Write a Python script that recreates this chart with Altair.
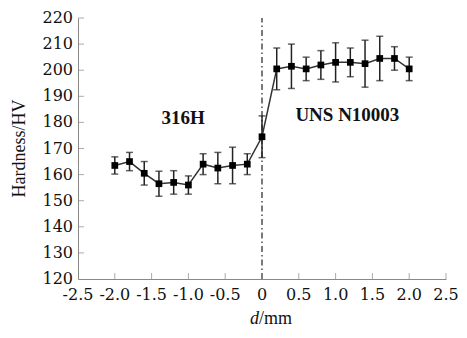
import altair as alt
import pandas as pd

d_mm = [-2.0, -1.8, -1.6, -1.4, -1.2, -1.0, -0.8, -0.6, -0.4, -0.2, 0.0,
        0.2, 0.4, 0.6, 0.8, 1.0, 1.2, 1.4, 1.6, 1.8, 2.0]
hardness = [163.5, 165, 160.5, 156.5, 157, 156, 164, 162.5, 163.5, 164, 174.5,
            200.5, 201.5, 200.5, 202, 203, 203, 202.5, 204.5, 204.5, 200.5]
err = [3.3, 3.5, 4.5, 4.8, 4.5, 3.5, 4, 6, 7, 4, 8,
       8, 8.5, 4.5, 5.5, 7.5, 5.5, 9, 8.5, 4.5, 4.5]
y_ticks = [120, 130, 140, 150, 160, 170, 180, 190, 200, 210, 220]
x_ticks = [-2.5, -2.0, -1.5, -1.0, -0.5, 0.0, 0.5, 1.0, 1.5, 2.0, 2.5]
x_tick_labels = ["-2.5", "-2.0", "-1.5", "-1.0", "-0.5", "0", "0.5", "1.0", "1.5", "2.0", "2.5"]
region_labels = ["316H", "UNS N10003"]
region_x = [-1.07, 1.16]
region_y = [181.5, 183]

df = pd.DataFrame({"d": d_mm, "hv": hardness, "lo": [h - e for h, e in zip(hardness, err)],
                   "hi": [h + e for h, e in zip(hardness, err)]})

FONT = "DejaVu Serif"
TFONT = "Liberation Serif"
W, H = 368, 261
xs = alt.Scale(domain=[-2.5, 2.5], nice=False, zero=False)
ys = alt.Scale(domain=[120, 220], nice=False, zero=False)

ax_x = alt.Axis(values=x_ticks, labels=False, ticks=False, title=None, grid=False, domainColor="#888")
ax_y = alt.Axis(values=y_ticks, labels=False, ticks=False, title=None, grid=False, domainColor="#888")


def qx(field, axis=None):
    if axis is None:
        return alt.X(field, type="quantitative", scale=xs)
    return alt.X(field, type="quantitative", scale=xs, axis=axis)


def qy(field, axis=None):
    if axis is None:
        return alt.Y(field, type="quantitative", scale=ys)
    return alt.Y(field, type="quantitative", scale=ys, axis=axis)


base = alt.Chart(df)
line = base.mark_line(color="#333", strokeWidth=1.5).encode(x=qx("d", ax_x), y=qy("hv", ax_y))
bars = base.mark_rule(color="#222", strokeWidth=1.5).encode(x=qx("d"), y=qy("lo"), y2="hi:Q")
cap_lo = base.mark_tick(color="#222", size=7, thickness=1.5, orient="horizontal").encode(x=qx("d"), y=qy("lo"))
cap_hi = base.mark_tick(color="#222", size=7, thickness=1.5, orient="horizontal").encode(x=qx("d"), y=qy("hi"))
pts = base.mark_square(color="#000", opacity=1, size=45).encode(x=qx("d"), y=qy("hv"))

xtick_df = pd.DataFrame({"t": x_ticks, "lab": x_tick_labels, "b": [120] * len(x_ticks)})
ytick_df = pd.DataFrame({"t": y_ticks, "lab": [str(v) for v in y_ticks], "b": [-2.5] * len(y_ticks)})
xticks_in = alt.Chart(xtick_df[1:]).mark_tick(color="#888", size=6, thickness=1, orient="vertical", yOffset=-3).encode(
    x=qx("t"), y=qy("b"))
yticks_in = alt.Chart(ytick_df[1:]).mark_tick(color="#888", size=6, thickness=1, orient="horizontal", xOffset=3).encode(
    x=qx("b"), y=qy("t"))
xlabels = alt.Chart(xtick_df).mark_text(font=FONT, fontSize=16, color="#111", baseline="top", dy=8).encode(
    x=qx("t"), y=qy("b"), text="lab:N")
ylabels = alt.Chart(ytick_df).mark_text(font=FONT, fontSize=16, color="#111", align="right", dx=-5).encode(
    x=qx("b"), y=qy("t"), text="lab:N")

vline = alt.Chart(pd.DataFrame({"x": [0.0], "y1": [120], "y2": [220]})).mark_rule(
    color="#222", strokeWidth=1.2, strokeDash=[6, 3, 1.5, 3]).encode(
    x=qx("x"), y=qy("y1"), y2="y2:Q")

labels = alt.Chart(pd.DataFrame({"t": region_labels, "x": region_x, "y": region_y})).mark_text(
    font=TFONT, fontSize=19, fontWeight="bold", color="#111").encode(
    x=qx("x"), y=qy("y"), text="t:N")

xt1 = alt.Chart(pd.DataFrame({"t": ["d"]})).mark_text(
    font=TFONT, fontSize=18, fontStyle="italic", color="#111", align="right").encode(
    x=alt.value(W / 2 - 3), y=alt.value(H + 40), text="t:N")
xt2 = alt.Chart(pd.DataFrame({"t": ["/mm"]})).mark_text(
    font=TFONT, fontSize=18, color="#111", align="left").encode(
    x=alt.value(W / 2 - 3), y=alt.value(H + 40), text="t:N")
yt = alt.Chart(pd.DataFrame({"t": ["Hardness/HV"]})).mark_text(
    font=TFONT, fontSize=18, color="#111", angle=270).encode(
    x=alt.value(-58), y=alt.value(H / 2), text="t:N")

chart = alt.layer(line, vline, xticks_in, yticks_in, bars, cap_lo, cap_hi, pts, labels,
                  xlabels, ylabels, xt1, xt2, yt).properties(
    width=W, height=H,
    autosize=alt.AutoSizeParams(type="none"),
    padding={"left": 70, "top": 10, "right": 13, "bottom": 51},
).configure_view(stroke=None)

chart.save("out.html", embed_options={"renderer": "svg", "actions": False})
